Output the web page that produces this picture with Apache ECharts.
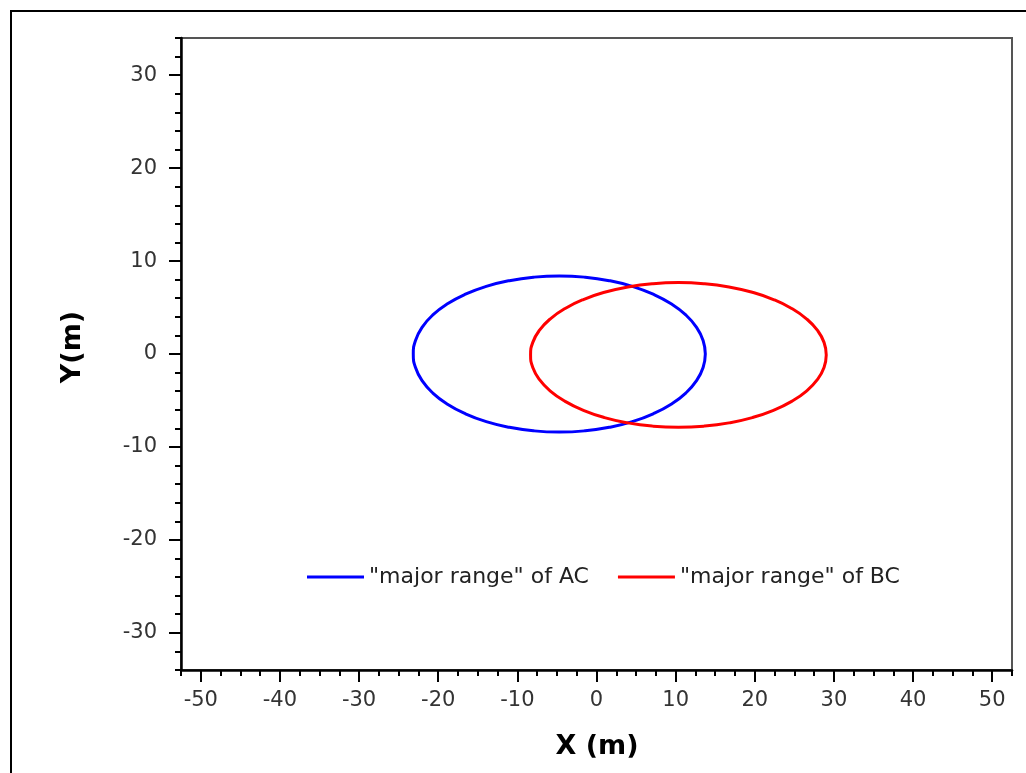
<!DOCTYPE html>
<html>
<head>
<meta charset="utf-8">
<script src="https://cdn.jsdelivr.net/npm/echarts@6/dist/echarts.min.js"></script>
<style>
  html, body { margin: 0; padding: 0; background: #fff; }
  #chart { width: 1026px; height: 773px; }
</style>
</head>
<body>
<div id="chart"></div>
<script>
// ---- data ----
const acX = [13.75, 13.47, 12.64, 11.28, 9.43, 7.16, 4.53, 1.61, -1.50, -4.70, -7.90, -11.01, -13.93, -16.56, -18.83, -20.68, -22.04, -22.87, -23.15, -22.87, -22.04, -20.68, -18.83, -16.56, -13.93, -11.01, -7.90, -4.70, -1.50, 1.61, 4.53, 7.16, 9.43, 11.28, 12.64, 13.47, 13.75];
const acY = [0, 1.46, 2.87, 4.20, 5.40, 6.43, 7.27, 7.89, 8.27, 8.40, 8.27, 7.89, 7.27, 6.43, 5.40, 4.20, 2.87, 1.46, 0, -1.46, -2.87, -4.20, -5.40, -6.43, -7.27, -7.89, -8.27, -8.40, -8.27, -7.89, -7.27, -6.43, -5.40, -4.20, -2.87, -1.46, 0];
const bcX = [29.03, 28.75, 27.90, 26.53, 24.66, 22.36, 19.69, 16.74, 13.59, 10.35, 7.11, 3.96, 1.01, -1.66, -3.96, -5.83, -7.20, -8.05, -8.33, -8.05, -7.20, -5.83, -3.96, -1.66, 1.01, 3.96, 7.11, 10.35, 13.59, 16.74, 19.69, 22.36, 24.66, 26.53, 27.90, 28.75, 29.03];
const bcY = [-0.10, 1.25, 2.56, 3.79, 4.90, 5.86, 6.64, 7.21, 7.56, 7.68, 7.56, 7.21, 6.64, 5.86, 4.90, 3.79, 2.56, 1.25, -0.10, -1.45, -2.76, -3.99, -5.10, -6.06, -6.84, -7.41, -7.76, -7.88, -7.76, -7.41, -6.84, -6.06, -5.10, -3.99, -2.76, -1.45, -0.10];

const seriesNames = ['"major range" of AC', '"major range" of BC'];
const xTicks = [-50, -40, -30, -20, -10, 0, 10, 20, 30, 40, 50];
const xMinorTicks = [-52.5, -47.5, -45, -42.5, -37.5, -35, -32.5, -27.5, -25, -22.5, -17.5, -15, -12.5, -7.5, -5, -2.5, 2.5, 5, 7.5, 12.5, 15, 17.5, 22.5, 25, 27.5, 32.5, 35, 37.5, 42.5, 45, 47.5, 52.5];
const yTicks = [-30, -20, -10, 0, 10, 20, 30];
const yMinorTicks = [-34, -32, -28, -26, -24, -22, -18, -16, -14, -12, -8, -6, -4, -2, 2, 4, 6, 8, 12, 14, 16, 18, 22, 24, 26, 28, 32, 34];
const xTitle = 'X (m)';
const yTitle = 'Y(m)';

const zip = (xs, ys) => xs.map((x, i) => [x, ys[i]]);

const FONT = 'DejaVu Sans';
const chart = echarts.init(document.getElementById('chart'), null, { renderer: 'canvas' });

const axisBase = {
  type: 'value',
  gridIndex: 0,
  splitLine: { show: false },
  minorTick: { show: false }
};

chart.setOption({
  animation: false,
  backgroundColor: '#fff',
  grid: {
    left: 181, right: 14, top: 38, bottom: 103,
    show: true, borderColor: '#555', borderWidth: 2, backgroundColor: '#fff'
  },
  legend: {
    left: 307, top: 566,
    padding: 0,
    itemGap: 29,
    itemWidth: 57, itemHeight: 3,
    icon: 'rect',
    textStyle: { fontFamily: FONT, fontSize: 22, color: '#222', padding: [0, 0, 0, 0] },
    data: seriesNames
  },
  xAxis: [
    Object.assign({}, axisBase, {
      min: -52.5, max: 52.5, position: 'bottom',
      axisLine: { show: true, onZero: false, lineStyle: { color: '#000', width: 2.5 } },
      axisTick: { show: true, inside: false, length: 12, customValues: xTicks, lineStyle: { color: '#000', width: 2 } },
      axisLabel: { show: true, customValues: xTicks, margin: 20, fontFamily: FONT, fontSize: 21, color: '#333' }
    }),
    Object.assign({}, axisBase, {
      min: -52.5, max: 52.5, position: 'bottom', offset: 0,
      axisLine: { show: false, onZero: false },
      axisTick: { show: true, inside: false, length: 6, customValues: xMinorTicks, lineStyle: { color: '#000', width: 2 } },
      axisLabel: { show: false }
    })
  ],
  yAxis: [
    Object.assign({}, axisBase, {
      min: -34, max: 34, position: 'left',
      axisLine: { show: true, onZero: false, lineStyle: { color: '#000', width: 2.5 } },
      axisTick: { show: true, inside: false, length: 12, customValues: yTicks, lineStyle: { color: '#000', width: 2 } },
      axisLabel: { show: true, customValues: yTicks, margin: 24, fontFamily: FONT, fontSize: 21, color: '#333' }
    }),
    Object.assign({}, axisBase, {
      min: -34, max: 34, position: 'left', offset: 0,
      axisLine: { show: false, onZero: false },
      axisTick: { show: true, inside: false, length: 6, customValues: yMinorTicks, lineStyle: { color: '#000', width: 2 } },
      axisLabel: { show: false }
    })
  ],
  graphic: [
    {
      type: 'rect', silent: true, z: 100,
      shape: { x: 11, y: 11, width: 1040, height: 800 },
      style: { fill: 'none', stroke: '#000', lineWidth: 2 }
    },
    {
      type: 'text', silent: true, z: 100,
      x: 597, y: 747,
      style: { text: xTitle, fontFamily: FONT, fontSize: 27, fontWeight: 'bold', fill: '#000', align: 'center', verticalAlign: 'middle' }
    },
    {
      type: 'text', silent: true, z: 100,
      x: 73, y: 347, rotation: Math.PI / 2,
      style: { text: yTitle, fontFamily: FONT, fontSize: 27, fontWeight: 'bold', fill: '#000', align: 'center', verticalAlign: 'middle' }
    }
  ],
  series: [
    {
      name: seriesNames[0], type: 'line', xAxisIndex: 0, yAxisIndex: 0,
      data: zip(acX, acY), showSymbol: false, symbol: 'none', smooth: 0.5,
      color: '#0000ff', lineStyle: { color: '#0000ff', width: 3 }
    },
    {
      name: seriesNames[1], type: 'line', xAxisIndex: 0, yAxisIndex: 0,
      data: zip(bcX, bcY), showSymbol: false, symbol: 'none', smooth: 0.5,
      color: '#ff0000', lineStyle: { color: '#ff0000', width: 3 }
    }
  ]
});
</script>
</body>
</html>
